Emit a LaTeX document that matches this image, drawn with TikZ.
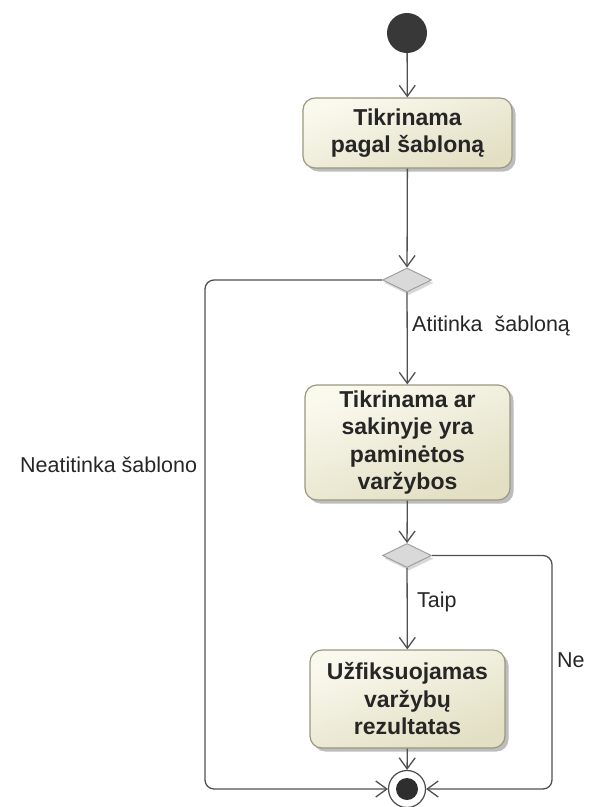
\documentclass[tikz,border=0pt]{standalone}
\usepackage{fontspec}
\setmainfont{Liberation Sans}
\usetikzlibrary{arrows.meta,shapes.geometric,shadows}
\definecolor{edgegray}{HTML}{505050}
\definecolor{boxborder}{HTML}{9A9880}
\definecolor{boxlight}{HTML}{FAF9EE}
\definecolor{boxdark}{HTML}{E2DFC3}
\definecolor{decfill}{HTML}{D9D9D9}
\definecolor{decborder}{HTML}{A0A0A0}
\begin{document}
\begin{tikzpicture}[x=1pt,y=-1pt,
  flow/.style={draw=edgegray, line width=1.3pt, rounded corners=9pt,
    -{Straight Barb[length=11pt,width=16pt,line width=1.3pt]}},
  actbox/.style={draw=boxborder, line width=1.2pt, rounded corners=12pt,
    top color=boxlight, bottom color=boxdark, shading angle=20,
    drop shadow={shadow xshift=3.5pt, shadow yshift=-3.5pt, fill=black!40, opacity=0.65},
    align=center, inner sep=0pt, text=black!85, font=\fontsize{23}{27.5}\selectfont\bfseries},
  decision/.style={diamond, aspect=2, draw=decborder, line width=1pt, fill=decfill,
    minimum width=49pt, minimum height=24pt, inner sep=0pt,
    drop shadow={shadow xshift=2pt, shadow yshift=-3pt, fill=black!30, opacity=0.5}},
  guard/.style={font=\fontsize{21.5}{25}\selectfont, text=black!85, inner sep=0pt, anchor=west}
]
\useasboundingbox (0,0) rectangle (595,807);

% start node
\node[circle, fill=black!78, minimum size=40pt, inner sep=0pt] (start) at (407,33) {};

% actions
\node[actbox, minimum width=209pt, minimum height=70pt] (check) at (407.5,133)
  {Tikrinama\\pagal šabloną};
\node[decision] (d1) at (407,280) {};
\node[actbox, minimum width=205pt, minimum height=115pt] (events) at (407.5,442.5)
  {Tikrinama ar\\sakinyje yra\\paminėtos\\varžybos};
\node[decision] (d2) at (407,555.5) {};
\node[actbox, minimum width=195pt, minimum height=98pt] (result) at (407.5,699)
  {Užfiksuojamas\\varžybų\\rezultatas};

% final node
\node[circle, draw=black!70, line width=1.2pt, fill=white, minimum size=37pt, inner sep=0pt] (final) at (407,789) {};
\node[circle, fill=black!82, minimum size=22pt, inner sep=0pt] (finaldot) at (final.center) {};

% control flow
\draw[flow] (start) -- (check);
\draw[flow] (check) -- (d1);
\draw[flow] (d1) -- (events);
\draw[flow] (events) -- (d2);
\draw[flow] (d2) -- (result);
\draw[flow] (result) -- (final);
\draw[flow] (d1.west) -- (205,280) -- (205,789) -- (final.west);
\draw[flow] (d2.east) -- (552,555.5) -- (552,789) -- (final.east);

% guards
\node[guard] (g1) at (412,326) {Atitinka\ \ šabloną};
\node[guard] (g2) at (20,465) {Neatitinka šablono};
\node[guard] (g3) at (417,602) {Taip};
\node[guard] (g4) at (557,660) {Ne};
\end{tikzpicture}
\end{document}
